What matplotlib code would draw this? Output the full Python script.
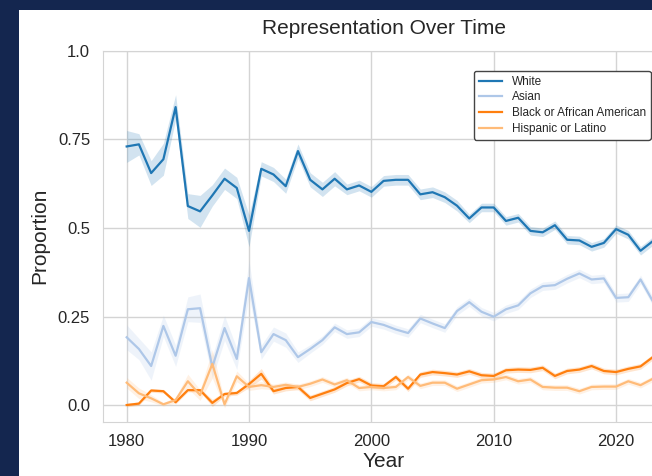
import numpy as np
import matplotlib
matplotlib.use("Agg")
import matplotlib.pyplot as plt
from matplotlib.patches import Rectangle

years = list(range(1980, 2024))

white = [0.730, 0.736, 0.655, 0.694, 0.841, 0.562, 0.547, 0.592, 0.639, 0.613,
         0.492, 0.667, 0.651, 0.618, 0.717, 0.636, 0.609, 0.639, 0.609, 0.620,
         0.602, 0.633, 0.636, 0.636, 0.595, 0.601, 0.587, 0.563, 0.527, 0.558,
         0.558, 0.520, 0.529, 0.492, 0.488, 0.508, 0.467, 0.465, 0.447, 0.458,
         0.497, 0.481, 0.436, 0.463]
asian = [0.192, 0.159, 0.111, 0.224, 0.140, 0.271, 0.274, 0.108, 0.218, 0.131,
         0.359, 0.150, 0.201, 0.184, 0.136, 0.159, 0.184, 0.220, 0.201, 0.206,
         0.235, 0.227, 0.214, 0.204, 0.245, 0.231, 0.218, 0.266, 0.291, 0.264,
         0.250, 0.271, 0.282, 0.316, 0.336, 0.339, 0.357, 0.372, 0.355, 0.358,
         0.303, 0.305, 0.355, 0.294]
black = [0.001, 0.005, 0.042, 0.040, 0.009, 0.043, 0.043, 0.007, 0.032, 0.035,
         0.060, 0.089, 0.040, 0.049, 0.052, 0.021, 0.033, 0.045, 0.063, 0.074,
         0.056, 0.054, 0.080, 0.047, 0.087, 0.094, 0.091, 0.087, 0.096, 0.085,
         0.083, 0.099, 0.101, 0.100, 0.106, 0.083, 0.097, 0.101, 0.111, 0.097,
         0.094, 0.103, 0.110, 0.136]
hispanic = [0.064, 0.034, 0.020, 0.003, 0.015, 0.068, 0.029, 0.117, 0.003, 0.082,
            0.052, 0.057, 0.052, 0.058, 0.052, 0.061, 0.073, 0.059, 0.071, 0.049,
            0.052, 0.049, 0.052, 0.080, 0.055, 0.064, 0.064, 0.047, 0.059, 0.071,
            0.073, 0.080, 0.068, 0.073, 0.052, 0.050, 0.050, 0.040, 0.052, 0.053,
            0.053, 0.068, 0.057, 0.075]

# half widths of the confidence bands
white_ci = ([0.045, 0.03, 0.035, 0.045, 0.035, 0.035, 0.045, 0.03, 0.03, 0.03,
             0.045, 0.02, 0.02, 0.02, 0.02, 0.02, 0.02, 0.02, 0.015, 0.015]
            + [0.015] * 8 + [0.012] * 16)
asian_ci = ([0.035, 0.03, 0.04, 0.03, 0.03, 0.035, 0.04, 0.03, 0.035, 0.03,
             0.05, 0.02, 0.02, 0.02, 0.015] + [0.012] * 29)
black_ci = ([0.005] * 7 + [0.01, 0.006, 0.006, 0.01, 0.015] + [0.008] * 32)
hispanic_ci = ([0.015, 0.015, 0.01, 0.005, 0.008, 0.02, 0.015, 0.04, 0.01, 0.015,
                0.01, 0.01] + [0.008] * 32)

labels = ["White", "Asian", "Black or African American", "Hispanic or Latino"]
colors = ["#1f77b4", "#aec7e8", "#ff7f0e", "#ffbb78"]

plt.rcParams['font.family'] = ['Liberation Sans', 'DejaVu Sans']
plt.rcParams['text.color'] = '#262626'
plt.rcParams['axes.labelcolor'] = '#262626'
plt.rcParams['xtick.color'] = '#262626'
plt.rcParams['ytick.color'] = '#262626'

fig = plt.figure(figsize=(6.52, 4.76), dpi=100, facecolor='#14264f')
fig.patches.append(Rectangle((19 / 652, 0), 1, 1 - 10 / 476, transform=fig.transFigure,
                             facecolor='white', edgecolor='none', zorder=-10))

W, H = 652, 476
left, bottom = 102.7, 421.7
ax = fig.add_axes([left / W, (H - bottom) / H, (665 - left) / W, (bottom - 50.7) / H])
ax.set_zorder(1)

series = [(white, white_ci), (asian, asian_ci), (black, black_ci), (hispanic, hispanic_ci)]
for (vals, ci), lab, c in zip(series, labels, colors):
    v = np.array(vals)
    e = np.array(ci)
    ax.fill_between(years, v - e, v + e, color=c, alpha=0.2, linewidth=0)
    ax.plot(years, v, color=c, linewidth=1.6, label=lab)

ax.set_xlim(1978.04, 2024)
ax.set_ylim(-0.046, 1.0)
ax.set_xticks([1980, 1990, 2000, 2010, 2020])
ax.set_yticks([0.0, 0.25, 0.5, 0.75, 1.0])
ax.set_yticklabels(["0.0", "0.25", "0.5", "0.75", "1.0"])
ax.tick_params(length=0, labelsize=12, pad=9)
ax.grid(True, color='#d4d4d4', linewidth=1)
ax.set_axisbelow(True)
for s in ax.spines.values():
    s.set_color('#d4d4d4')

ax.set_xlabel("Year", fontsize=15, labelpad=2)
ax.set_ylabel("Proportion", fontsize=15, labelpad=6)
ax.set_title("Representation Over Time", fontsize=15, pad=12)

leg = ax.legend(loc='upper right', bbox_to_anchor=(650.5 / W, 1 - 71 / H),
                bbox_transform=fig.transFigure, fontsize=8.5, frameon=True,
                fancybox=True, borderaxespad=0, labelspacing=0.32)
leg.get_frame().set_edgecolor('#444444')
leg.get_frame().set_linewidth(1.0)
leg.get_frame().set_alpha(1)

fig.savefig("out.png", dpi=100, facecolor=fig.get_facecolor())
